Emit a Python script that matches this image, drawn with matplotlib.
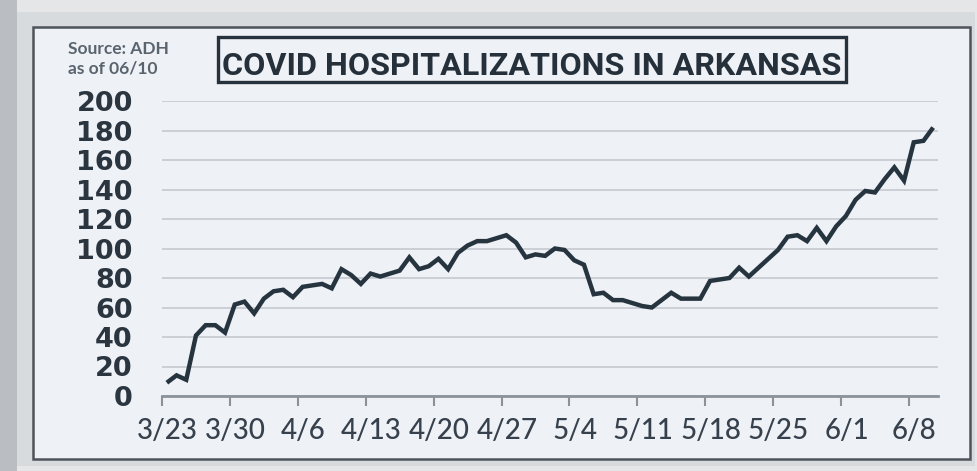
import matplotlib
matplotlib.use('Agg')
import matplotlib.pyplot as plt
import matplotlib.transforms as mtransforms
import numpy as np
from matplotlib import font_manager
from matplotlib.patches import Rectangle

# data (daily, 3/23 .. 6/10)
week_labels = ['3/23', '3/30', '4/6', '4/13', '4/20', '4/27',
               '5/4', '5/11', '5/18', '5/25', '6/1', '6/8']
hospitalized = [9, 14, 11, 41, 48, 48, 43, 62, 64, 56,
                66, 71, 72, 67, 74, 75, 76, 73, 86, 82,
                76, 83, 81, 83, 85, 94, 86, 88, 93, 86,
                97, 102, 105, 105, 107, 109, 104, 94, 96, 95,
                100, 99, 92, 89, 69, 70, 65, 65, 63, 61,
                60, 65, 70, 66, 66, 66, 78, 79, 80, 87,
                81, 87, 93, 99, 108, 109, 105, 114, 105, 115,
                122, 133, 139, 138, 147, 155, 146, 172, 173, 182]
y_ticks = [0, 20, 40, 60, 80, 100, 120, 140, 160, 180, 200]

W, H = 978, 471


def fx(px):
    return px / W


def fy(py):
    return 1 - py / H


def have_font(name):
    try:
        font_manager.findfont(font_manager.FontProperties(family=name),
                              fallback_to_default=False)
        return True
    except ValueError:
        return False


title_family = 'Liberation Sans Narrow' if have_font('Liberation Sans Narrow') else 'Roboto'
label_family = 'Lato' if have_font('Lato') else 'DejaVu Sans'

fig = plt.figure(figsize=(W / 100, H / 100), dpi=100, facecolor='#e4e6e8')

# screen frame + panel (behind the axes)
fig.patches.append(Rectangle((0, 0), fx(17), 1, transform=fig.transFigure,
                             facecolor='#babec2', edgecolor='none', zorder=-3))
fig.patches.append(Rectangle((fx(17), fy(466)), (975 - 17) / W, (466 - 12) / H,
                             transform=fig.transFigure, facecolor='#d8dbde',
                             edgecolor='none', zorder=-3))
fig.patches.append(Rectangle((fx(33), fy(459)), (970 - 33) / W, (459 - 27) / H,
                             transform=fig.transFigure, facecolor='#eef1f5',
                             edgecolor='#4e545b', lw=1.8, zorder=-2))

ax = fig.add_axes([fx(162), fy(396), (938 - 162) / W, (396 - 101) / H])
ax.set_zorder(1)
ax.set_facecolor('none')

days = np.arange(len(hospitalized)) + 0.5
ax.plot(days, hospitalized, color='#263440', lw=3.2, zorder=3,
        solid_joinstyle='miter', solid_capstyle='butt')

ax.set_xlim(0, 80)
ax.set_ylim(0, 200)
ax.set_yticks(y_ticks)
ax.set_xticks(np.arange(len(week_labels)) * 7)
ax.set_xticklabels(week_labels)

ax.yaxis.grid(True, color='#c6cad0', lw=1.2)
ax.set_axisbelow(True)
for s in ['top', 'right', 'left']:
    ax.spines[s].set_visible(False)
ax.spines['bottom'].set_color('#8c9299')
ax.spines['bottom'].set_linewidth(2)
ax.spines['bottom'].set_zorder(2)

ax.tick_params(axis='y', length=0, pad=21, labelsize=19.5, labelcolor='#2b3540')
ax.tick_params(axis='x', length=7, width=1.5, color='#8c9299', pad=9,
               labelsize=20, labelcolor='#36414d')
for lab in ax.get_yticklabels():
    lab.set_fontweight('bold')
    lab.set_family('DejaVu Sans')
shift = mtransforms.ScaledTranslation(0.055, 0, fig.dpi_scale_trans)
for lab in ax.get_xticklabels():
    lab.set_family(label_family)
    lab.set_fontweight('medium')
    lab.set_transform(lab.get_transform() + shift)

# source note
fig.text(fx(68), fy(54), 'Source: ADH', family=label_family, fontweight='bold',
         fontsize=12.5, color='#5a646f', va='baseline')
fig.text(fx(68), fy(74), 'as of 06/10', family=label_family, fontweight='bold',
         fontsize=12.5, color='#5a646f', va='baseline')

# boxed title
fig.patches.append(Rectangle((fx(218), fy(82)), (846 - 218) / W, (82 - 37) / H,
                             transform=fig.transFigure, facecolor='none',
                             edgecolor='#27313b', lw=2.4, zorder=2))
title = fig.text(fx(532), fy(75), 'COVID HOSPITALIZATIONS IN ARKANSAS',
                 ha='center', va='baseline', fontsize=24, fontweight='bold',
                 family=title_family, color='#25303b')
fig.canvas.draw()
tw = title.get_window_extent().width
title.set_fontsize(24 * 618 / tw)

fig.savefig('out.png', dpi=100, facecolor=fig.get_facecolor())
